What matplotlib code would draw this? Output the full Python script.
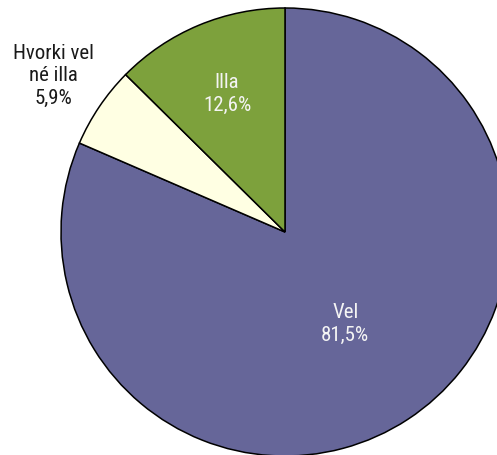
import matplotlib
matplotlib.use("Agg")
import matplotlib.pyplot as plt
import numpy as np

categories = ["Vel", "Hvorki vel\nné illa", "Illa"]
values = [81.5, 5.9, 12.6]
pct_labels = ["81,5%", "5,9%", "12,6%"]
colors = ["#666699", "#FFFFE3", "#7DA13C"]
text_colors = ["#f4f4f4", "#1a1a1a", "#f4f4f4"]
label_dist = [0.49, 1.245, 0.67]

plt.rcParams['font.family'] = ['Roboto Condensed', 'Liberation Sans', 'DejaVu Sans']

fig = plt.figure(figsize=(4.97, 4.55), dpi=100)
ax = fig.add_axes([0, 0, 1, 1])
cx, cy, R = 285, 223, 224
wedges, _ = ax.pie(values, colors=colors, startangle=90, counterclock=False,
                   radius=R, center=(cx, cy), frame=True,
                   wedgeprops=dict(edgecolor='black', linewidth=1.1))
ax.set_xlim(0, 497)
ax.set_ylim(0, 455)
ax.set_aspect('equal')
ax.axis('off')

for w, cat, pct, tc, d in zip(wedges, categories, pct_labels, text_colors, label_dist):
    th = np.deg2rad((w.theta1 + w.theta2) / 2)
    x = cx + R * d * np.cos(th)
    y = cy + R * d * np.sin(th)
    ax.text(x, y, f"{cat}\n{pct}", ha='center', va='center', multialignment='center',
            color=tc, fontsize=15, fontweight='normal', linespacing=1.25)

fig.savefig("out.png", dpi=100)
